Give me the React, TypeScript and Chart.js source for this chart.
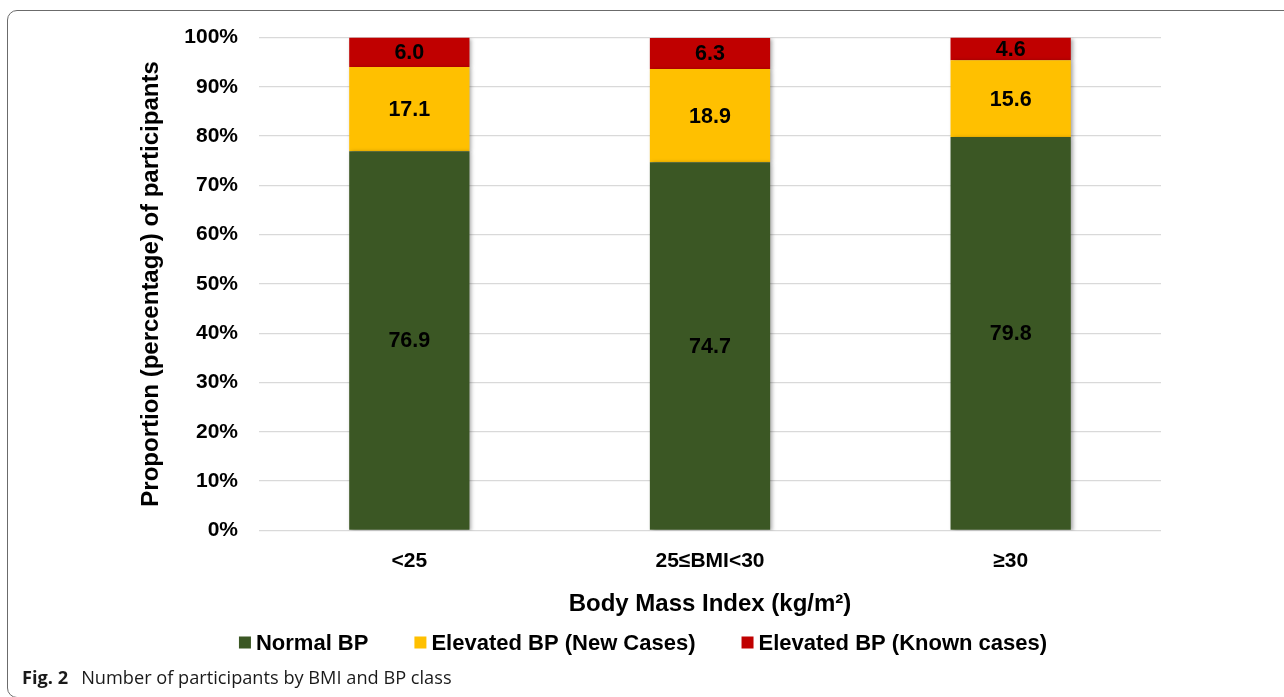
import React, { useEffect, useRef } from "react";
import { Chart, registerables } from "chart.js";

Chart.register(...registerables);

// ---- Data ----
const categories = ["<25", "25≤BMI<30", "≥30"];
const normalBP = [76.9, 74.7, 79.8];
const newCases = [17.1, 18.9, 15.6];
const knownCases = [6.0, 6.3, 4.6];
const seriesNames = ["Normal BP", "Elevated BP (New Cases)", "Elevated BP (Known cases)"];
const seriesColors = ["#3B5724", "#FFC000", "#C00000"];
const yAxisTitle = "Proportion (percentage) of participants";
const xAxisTitle = "Body Mass Index (kg/m²)";

const FONT = "'Liberation Sans', Arial, Helvetica, sans-serif";

const shadowPlugin = {
  id: "barShadow",
  beforeDatasetsDraw(chart: any) {
    const ctx = chart.ctx;
    ctx.save();
    ctx.shadowColor = "rgba(0,0,0,0.35)";
    ctx.shadowBlur = 4;
    ctx.shadowOffsetX = 2;
    ctx.shadowOffsetY = 1;
  },
  afterDatasetsDraw(chart: any) {
    chart.ctx.restore();
  },
};

const labelPlugin = {
  id: "segmentLabels",
  afterDatasetsDraw(chart: any) {
    const ctx = chart.ctx;
    ctx.save();
    ctx.font = `bold 21.5px ${FONT}`;
    ctx.fillStyle = "#000";
    ctx.textAlign = "center";
    ctx.textBaseline = "middle";
    chart.data.datasets.forEach((ds: any, i: number) => {
      const meta = chart.getDatasetMeta(i);
      meta.data.forEach((el: any, j: number) => {
        const v = ds.data[j] as number;
        const p = el.getProps(["x", "y", "base"], true);
        ctx.fillText(v.toFixed(1), p.x, (p.y + p.base) / 2 + 1);
      });
    });
    ctx.restore();
  },
};

const legendPlugin = {
  id: "customLegend",
  afterDraw(chart: any) {
    const ctx = chart.ctx;
    ctx.save();
    ctx.font = `bold 22px ${FONT}`;
    ctx.textBaseline = "middle";
    ctx.textAlign = "left";
    const box = 12;
    const gap = 5;
    const spacing = 46;
    const items = chart.data.datasets.map((ds: any) => ({
      text: ds.label as string,
      color: ds.backgroundColor as string,
      w: ctx.measureText(ds.label).width,
    }));
    const total =
      items.reduce((a: number, it: any) => a + box + gap + it.w, 0) + spacing * (items.length - 1);
    let x = chart.width / 2 + 1 - total / 2;
    const y = 642.5;
    items.forEach((it: any) => {
      ctx.fillStyle = it.color;
      ctx.fillRect(x, y - box / 2, box, box);
      ctx.fillStyle = "#000";
      ctx.fillText(it.text, x + box + gap, y + 1);
      x += box + gap + it.w + spacing;
    });
    ctx.restore();
  },
};

function BarChart() {
  const ref = useRef<HTMLCanvasElement | null>(null);
  useEffect(() => {
    if (!ref.current) return;
    const chart = new Chart(ref.current, {
      type: "bar",
      data: {
        labels: categories,
        datasets: [
          { label: seriesNames[0], data: normalBP, backgroundColor: seriesColors[0] },
          { label: seriesNames[1], data: newCases, backgroundColor: seriesColors[1] },
          { label: seriesNames[2], data: knownCases, backgroundColor: seriesColors[2] },
        ],
      },
      options: {
        animation: false,
        responsive: false,
        maintainAspectRatio: false,
        datasets: {
          bar: { barPercentage: 0.4, categoryPercentage: 1.0 },
        },
        layout: { padding: { top: 37.5, right: 123, bottom: 74.6, left: 0 } },
        plugins: {
          legend: { display: false },
          tooltip: { enabled: false },
        },
        scales: {
          x: {
            stacked: true,
            grid: { display: false, drawTicks: false },
            border: { display: false },
            ticks: {
              padding: 18,
              color: "#000",
              font: { family: FONT, size: 21, weight: "bold" },
            },
            title: {
              display: true,
              text: xAxisTitle,
              color: "#000",
              font: { family: FONT, size: 24, weight: "bold" },
              padding: { top: -2, bottom: 4 },
            },
          },
          y: {
            stacked: true,
            min: 0,
            max: 100,
            afterFit(scale: any) {
              scale.width = 259;
            },
            grid: { color: "#D9D9D9", lineWidth: 1.3, drawTicks: false },
            border: { display: false },
            ticks: {
              stepSize: 10,
              padding: 21,
              color: "#000",
              font: { family: FONT, size: 21, weight: "bold" },
              callback: (v: any) => `${v}%`,
            },
            title: {
              display: true,
              text: yAxisTitle,
              color: "#000",
              font: { family: FONT, size: 24, weight: "bold" },
              padding: { top: 137, bottom: 0 },
            },
          },
        },
      },
      plugins: [shadowPlugin, labelPlugin, legendPlugin],
    } as any);
    return () => chart.destroy();
  }, []);
  return <canvas ref={ref} width={1284} height={697} style={{ display: "block" }} />;
}

export default function App() {
  return (
    <div
      style={{
        position: "absolute",
        left: 0,
        top: 0,
        width: 1284,
        height: 697,
        overflow: "hidden",
        background: "#fff",
      }}
    >
      <div
        style={{
          position: "absolute",
          left: 7,
          top: 10,
          width: 1400,
          height: 688,
          border: "1.5px solid #6b6b6b",
          borderRadius: 10,
          boxSizing: "border-box",
        }}
      />
      <div style={{ position: "absolute", left: 0, top: 0 }}>
        <BarChart />
      </div>
      <div
        style={{
          position: "absolute",
          left: 22,
          top: 665,
          fontFamily: "'Open Sans', 'Noto Sans', sans-serif",
          fontSize: 18.2,
          lineHeight: "24px",
          color: "#1a1a1a",
          whiteSpace: "nowrap",
        }}
      >
        <b>Fig. 2</b>
        <span style={{ marginLeft: 13 }}>Number of participants by BMI and BP class</span>
      </div>
    </div>
  );
}
